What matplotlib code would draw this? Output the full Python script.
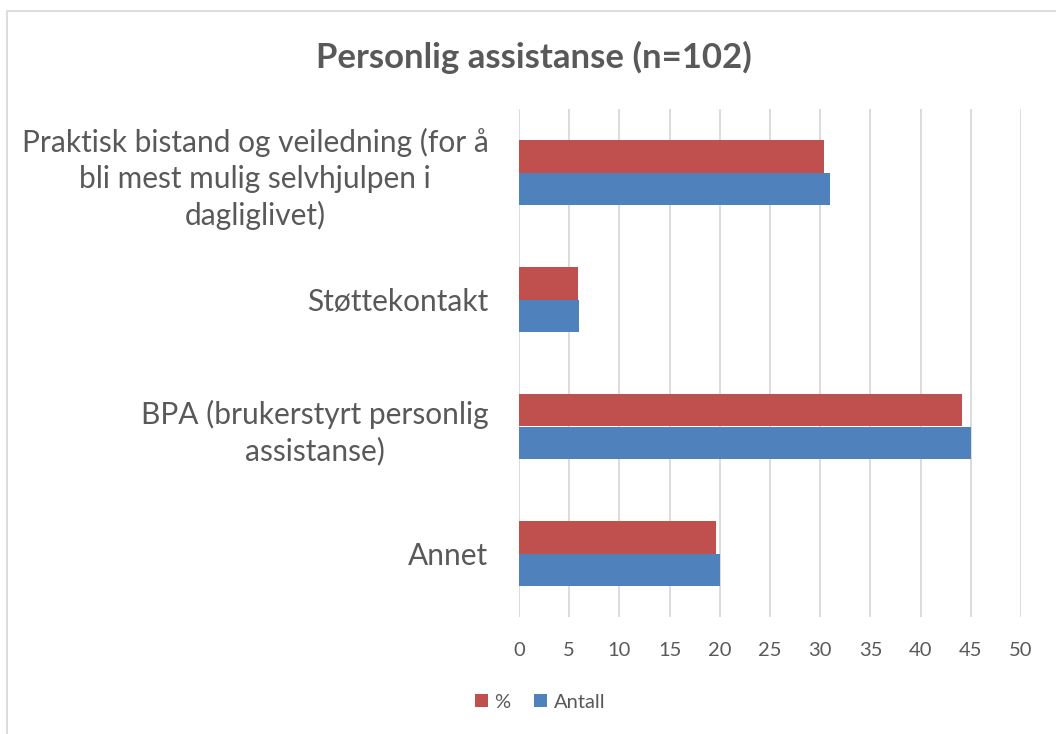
import matplotlib
matplotlib.use("Agg")
import matplotlib.pyplot as plt
from matplotlib.patches import Rectangle
import numpy as np

categories = [
    "Praktisk bistand og veiledning (for å\nbli mest mulig selvhjulpen i\ndagliglivet)",
    "Støttekontakt",
    "BPA (brukerstyrt personlig\nassistanse)",
    "Annet",
]
antall = [31, 6, 45, 20]
prosent = [30.4, 5.9, 44.1, 19.6]
xticks = [0, 5, 10, 15, 20, 25, 30, 35, 40, 45, 50]
title = "Personlig assistanse (n=102)"

plt.rcParams['font.family'] = ['Lato', 'DejaVu Sans']
W, H = 1056, 734
fig = plt.figure(figsize=(W / 100, H / 100), dpi=100)
fig.patch.set_facecolor("white")

# chart border
fig.patches.append(Rectangle((7 / W, -0.01), 1.05, 1 - 11 / H + 0.01, transform=fig.transFigure,
                             fill=False, edgecolor="#D9D9D9", linewidth=1.3))

ax = fig.add_axes([519 / W, 1 - 617 / H, (1021 - 519) / W, 508 / H])
y = np.arange(len(categories))
bh = 0.256
ax.barh(y - bh / 2, prosent, height=bh, color="#C0504D", label="%", zorder=3)
ax.barh(y + bh / 2, antall, height=bh, color="#4F81BD", label="Antall", zorder=3)
ax.set_ylim(len(categories) - 0.5, -0.5)
ax.set_xlim(0, 50)
ax.set_xticks(xticks)
ax.set_xticklabels([str(t) for t in xticks], fontsize=14.5, color="#595959")
ax.set_yticks(y)
ax.set_yticklabels(categories, fontsize=21.5, color="#595959", multialignment="center",
                   linespacing=1.32)
ax.tick_params(axis="both", length=0)
ax.tick_params(axis="x", pad=18)
ax.tick_params(axis="y", pad=22)
ax.grid(axis="x", color="#D9D9D9", linewidth=1.3, zorder=0)
for s in ax.spines.values():
    s.set_visible(False)

fig.text(534 / W, 1 - 57 / H, title, ha="center", va="center", fontsize=25,
         fontweight="bold", color="#595959")

handles, labels = ax.get_legend_handles_labels()
fig.legend(handles, labels, loc="center", bbox_to_anchor=(540 / W, 1 - 702 / H), ncol=2,
           frameon=False, fontsize=14.5, handlelength=0.65, handleheight=0.65,
           handletextpad=0.3, columnspacing=1.2, labelcolor="#595959")

fig.savefig("out.png", dpi=100)
